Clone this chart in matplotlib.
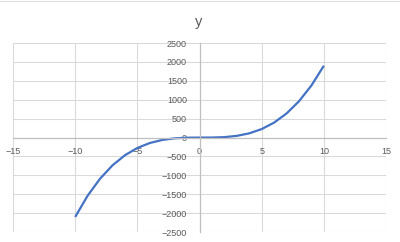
import matplotlib
matplotlib.use('Agg')
import matplotlib.pyplot as plt
from matplotlib.lines import Line2D

# values
x_vals = [-10, -9, -8, -7, -6, -5, -4, -3, -2, -1, 0, 1, 2, 3, 4, 5, 6, 7, 8, 9, 10]
y_vals = [-2100, -1539, -1088, -735, -468, -275, -144, -63, -20, -3, 0,
          1, 12, 45, 112, 225, 396, 637, 960, 1377, 1900]
x_ticks = [-15, -10, -5, 0, 5, 10, 15]
y_ticks = [-2500, -2000, -1500, -1000, -500, 0, 500, 1000, 1500, 2000, 2500]

plt.rcParams['font.family'] = ['Liberation Sans', 'DejaVu Sans']
txt = '#595959'

fig = plt.figure(figsize=(4, 2.42), dpi=100)
ax = fig.add_axes([0.0325, 0.041, 0.9325, 0.781])

ax.plot(x_vals, y_vals, color='#4472c4', lw=1.6, solid_joinstyle='round',
        solid_capstyle='butt')

ax.set_xlim(-15, 15)
ax.set_ylim(-2500, 2500)
ax.set_xticks(x_ticks)
ax.set_yticks(y_ticks)
ax.grid(True, color='#d9d9d9', lw=0.75)
ax.set_axisbelow(True)

ax.spines['left'].set_position('zero')
ax.spines['bottom'].set_position('zero')
ax.spines['right'].set_visible(False)
ax.spines['top'].set_visible(False)
for s in ('left', 'bottom'):
    ax.spines[s].set_color('#bfbfbf')
    ax.spines[s].set_linewidth(0.9)

ax.tick_params(length=0, labelsize=6.5, labelcolor=txt)
ax.tick_params(axis='y', pad=9)
ax.tick_params(axis='x', pad=7)

fig.text(0.4975, 0.91, 'y', ha='center', va='center', fontsize=10.5, color=txt)

# faint sheet border at the very top
fig.add_artist(Line2D([0, 1], [0.995, 0.995], color='#e0e0e0', lw=0.8))

fig.savefig('out.png', dpi=100)
